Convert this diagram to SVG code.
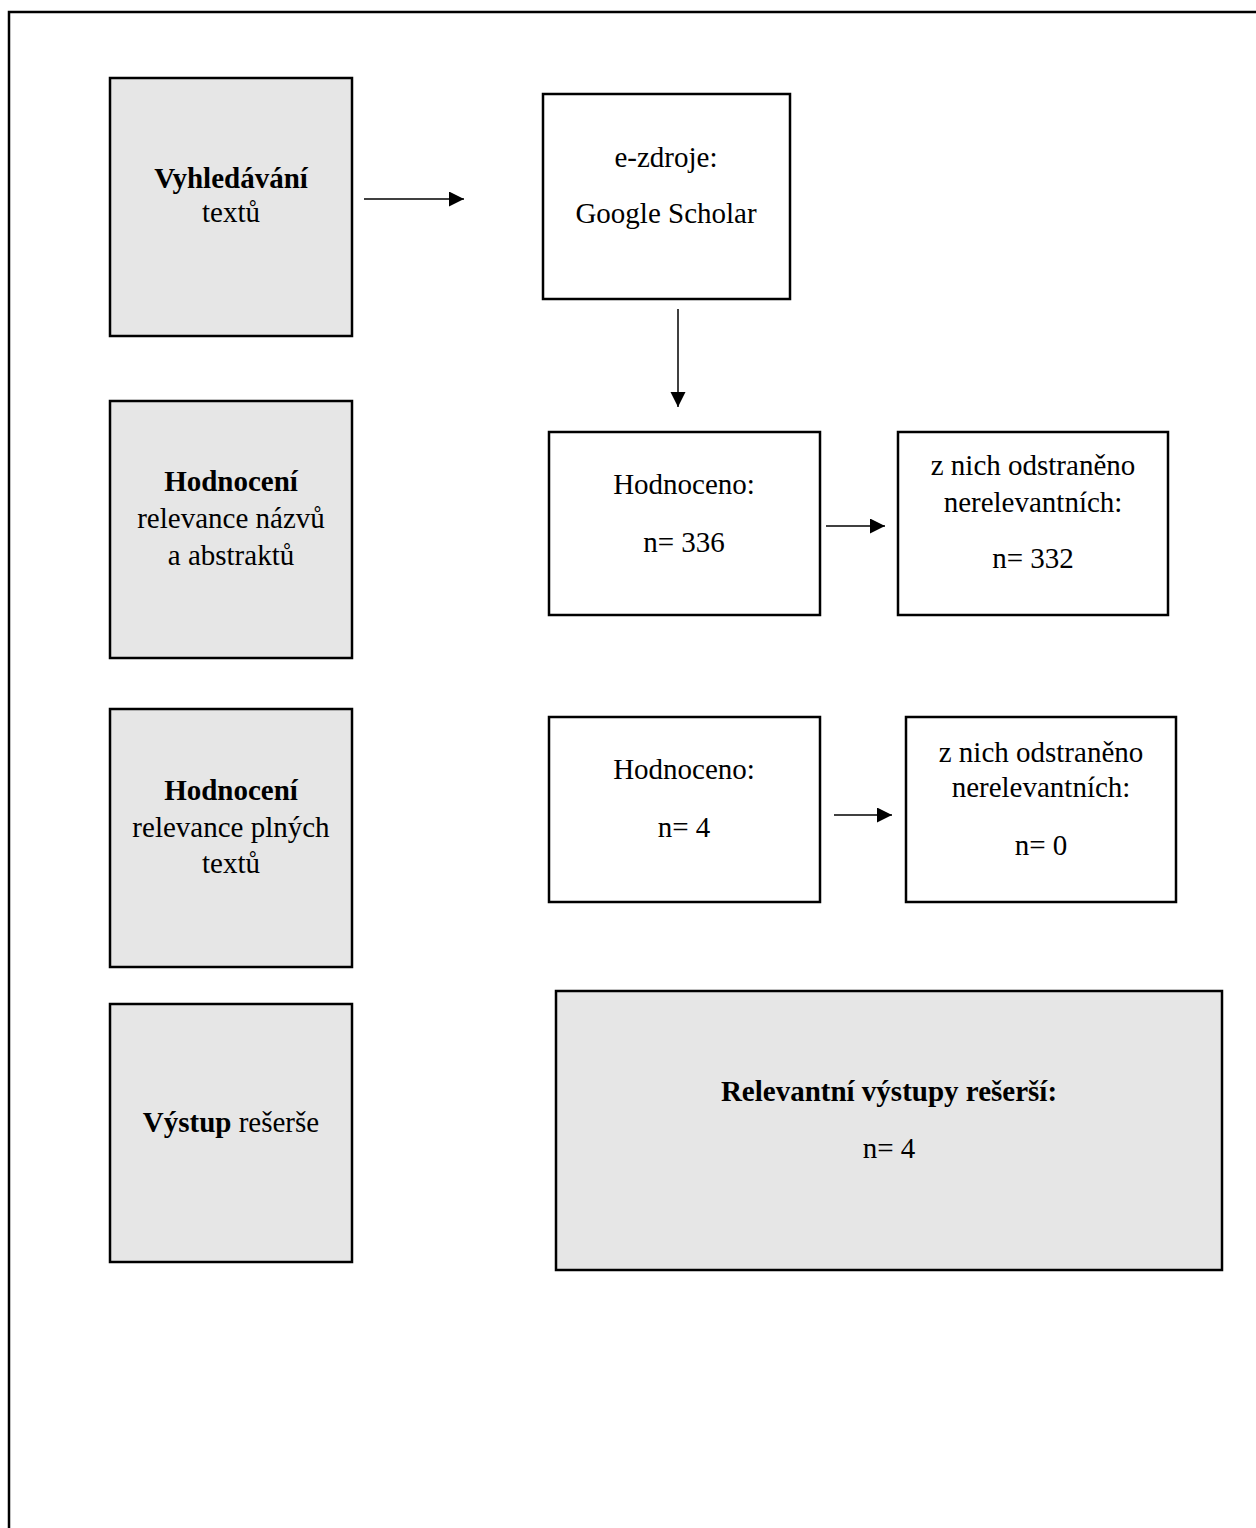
<svg xmlns="http://www.w3.org/2000/svg" width="1256" height="1528" viewBox="0 0 1256 1528">
<style>
.frame{fill:none;stroke:#000;stroke-width:2.5}
.box{fill:#fff;stroke:#000;stroke-width:2.5}
.grey{fill:#e6e6e6;stroke:#000;stroke-width:2.5}
text{font-family:"Liberation Serif","Times New Roman",serif;font-size:29px;fill:#000;text-anchor:middle}
.b{font-weight:bold}
.conn{stroke:#000;stroke-width:1.5;fill:none;marker-end:url(#arr)}
</style>
<defs>
<marker id="arr" markerUnits="userSpaceOnUse" markerWidth="16" markerHeight="16" refX="15" refY="7.5" orient="auto">
<path d="M0,0 L15,7.5 L0,15 z" fill="#000"/>
</marker>
</defs>
<rect width="1256" height="1528" fill="#fff"/>
<rect class="frame" x="9" y="12" width="1400" height="1600"/>

<g id="step1">
<rect class="grey" x="110" y="78" width="242" height="258"/>
<text x="231" y="188" class="b">Vyhledávání</text>
<text x="231" y="222">textů</text>
</g>
<g id="step2">
<rect class="grey" x="110" y="401" width="242" height="257"/>
<text x="231" y="491" class="b">Hodnocení</text>
<text x="231" y="528">relevance názvů</text>
<text x="231" y="565">a abstraktů</text>
</g>
<g id="step3">
<rect class="grey" x="110" y="709" width="242" height="258"/>
<text x="231" y="800" class="b">Hodnocení</text>
<text x="231" y="837">relevance plných</text>
<text x="231" y="873">textů</text>
</g>
<g id="step4">
<rect class="grey" x="110" y="1004" width="242" height="258"/>
<text x="231" y="1132"><tspan class="b" font-weight="bold">Výstup</tspan> rešerše</text>
</g>

<g id="sources">
<rect class="box" x="543" y="94" width="247" height="205"/>
<text x="666" y="167">e-zdroje:</text>
<text x="666" y="223">Google Scholar</text>
</g>
<g id="eval1">
<rect class="box" x="549" y="432" width="271" height="183"/>
<text x="684" y="494">Hodnoceno:</text>
<text x="684" y="552">n= 336</text>
</g>
<g id="removed1">
<rect class="box" x="898" y="432" width="270" height="183"/>
<text x="1033" y="475">z nich odstraněno</text>
<text x="1033" y="512">nerelevantních:</text>
<text x="1033" y="568">n= 332</text>
</g>
<g id="eval2">
<rect class="box" x="549" y="717" width="271" height="185"/>
<text x="684" y="779">Hodnoceno:</text>
<text x="684" y="837">n= 4</text>
</g>
<g id="removed2">
<rect class="box" x="906" y="717" width="270" height="185"/>
<text x="1041" y="762">z nich odstraněno</text>
<text x="1041" y="797">nerelevantních:</text>
<text x="1041" y="855">n= 0</text>
</g>
<g id="result">
<rect class="grey" x="556" y="991" width="666" height="279"/>
<text x="889" y="1101" class="b">Relevantní výstupy rešerší:</text>
<text x="889" y="1158">n= 4</text>
</g>

<g id="connectors">
<line class="conn" x1="364" y1="199" x2="464" y2="199"/>
<line class="conn" x1="678" y1="309" x2="678" y2="407"/>
<line class="conn" x1="826" y1="526" x2="885" y2="526"/>
<line class="conn" x1="834" y1="815" x2="892" y2="815"/>
</g>
</svg>
